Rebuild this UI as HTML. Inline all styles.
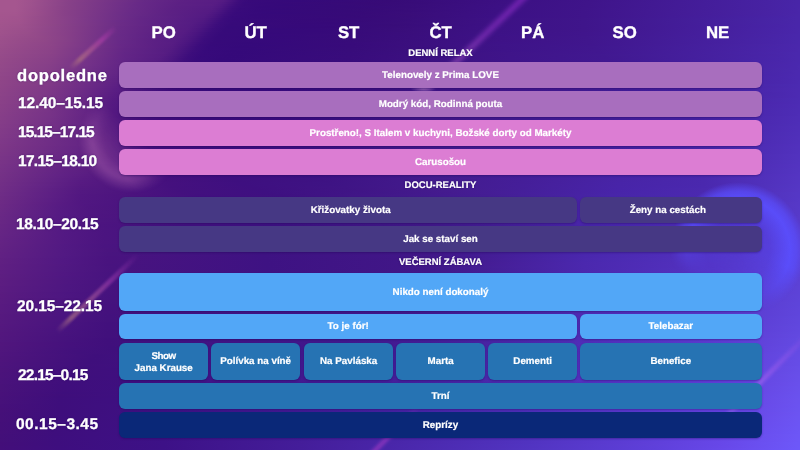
<!DOCTYPE html>
<html><head><meta charset="utf-8">
<style>
*{margin:0;padding:0;box-sizing:border-box}
html,body{width:800px;height:450px;overflow:hidden}
body{position:relative;font-family:"Liberation Sans",sans-serif;font-weight:bold;color:#fff;background:#3a0f80;text-rendering:geometricPrecision}
#bg{position:absolute;left:0;top:0;width:800px;height:450px;overflow:hidden}
#g{position:absolute;left:0;top:0;width:800px;height:450px}
#g i{display:block;height:2px}
.dec{position:absolute}
.st{position:absolute;height:4px;border-radius:2px;transform-origin:0 50%;filter:blur(1.2px)}
.b{will-change:transform;position:absolute;border-radius:6px;text-align:center;font-size:9.8px;-webkit-text-stroke:.2px #fff;white-space:nowrap;box-shadow:0 1px 2px rgba(30,0,80,.35)}
.c1{background:#a86ebe}.c2{background:#dc7dd3}.c3{background:#463884}.c4{background:#52a7f7}.c5{background:#2673b3}.c6{background:#0a2878}
.d{will-change:transform;position:absolute;top:20.3px;font-size:16.8px;-webkit-text-stroke:.35px #fff;text-align:center;width:89.3px;line-height:26px}
.s{will-change:transform;position:absolute;left:119px;width:643px;text-align:center;font-size:9.5px;-webkit-text-stroke:.2px #fff;line-height:14.2px;text-shadow:0 0 2px rgba(30,0,90,.6)}
.t{will-change:transform;position:absolute;font-size:15.5px;-webkit-text-stroke:.3px #fff;line-height:19.2px;white-space:nowrap;text-shadow:0 0 2px rgba(40,0,90,.6)}
</style></head><body>
<div id="bg"><div id="g"><i style="background:linear-gradient(90deg,#a5568f 0px,#a5568f 16px,#9e518d 32px,#884188 68px,#662986 144px,#5c2084 184px,#581d84 216px,#531a83 224px,#3c0c7c 240px,#380a7a 248px,#35097a 296px,#370b77 392px,#3c1084 508px,#3f148a 592px,#4722a3 768px,#4825a7 796px,#4825a8 799px)"></i><i style="background:linear-gradient(90deg,#a5568f 0px,#a5568f 16px,#9d518d 32px,#874188 68px,#672987 140px,#5c2084 180px,#571c84 216px,#501882 224px,#3f0e7c 236px,#380a7b 244px,#36097a 268px,#370a77 368px,#380c79 416px,#3c1083 500px,#3f148a 588px,#4722a3 768px,#4825a7 796px,#4825a8 799px)"></i><i style="background:linear-gradient(90deg,#a5568f 0px,#a5568f 16px,#9d518d 32px,#874188 68px,#682a87 136px,#5c2184 176px,#581d84 212px,#521983 220px,#3d0d7c 236px,#380a7a 244px,#35097a 284px,#370b77 380px,#390d7b 428px,#3c1084 500px,#3f148a 588px,#4722a3 768px,#4825a8 796px,#4925a8 799px)"></i><i style="background:linear-gradient(90deg,#a5568f 0px,#a5568f 16px,#9d508d 32px,#894288 64px,#682a87 136px,#5c2084 176px,#561c84 212px,#501882 220px,#3f0e7d 232px,#390b7b 240px,#36097a 260px,#360a78 352px,#380c79 408px,#3c1084 496px,#3f148a 588px,#4722a3 768px,#4825a8 796px,#4925a8 799px)"></i><i style="background:linear-gradient(90deg,#a5568f 0px,#a5568f 16px,#9a4e8c 36px,#894288 64px,#692b87 132px,#5c2184 172px,#551b83 212px,#4d1681 220px,#3d0d7c 232px,#380a7b 240px,#35097a 276px,#370b77 372px,#390d7a 416px,#3c1084 496px,#3f148a 584px,#4722a3 768px,#4825a8 796px,#4926a8 799px)"></i><i style="background:linear-gradient(90deg,#a5568f 0px,#a4568f 16px,#9a4e8c 36px,#884188 64px,#692a87 132px,#5c2084 172px,#551b83 208px,#4f1882 216px,#3f0e7d 228px,#390b7b 236px,#36097a 256px,#360a78 348px,#380c79 408px,#3c1084 496px,#3f148a 584px,#4823a4 772px,#4925a8 796px,#4926a9 799px)"></i><i style="background:linear-gradient(90deg,#a4568e 0px,#a4558f 16px,#9a4e8b 36px,#884188 64px,#6a2b87 128px,#5d2184 168px,#541a83 208px,#4c1681 216px,#3d0d7c 228px,#380a7b 236px,#35097a 272px,#370a78 364px,#390d7a 412px,#3c1084 496px,#3f148a 584px,#4823a4 772px,#4925a8 796px,#4926a9 799px)"></i><i style="background:linear-gradient(90deg,#a4558e 0px,#a3558e 16px,#994e8b 36px,#884188 64px,#692b87 128px,#5c2184 168px,#541b83 204px,#4e1781 212px,#3f0e7d 224px,#390b7b 232px,#36097a 252px,#360a78 348px,#390d79 408px,#3c1085 496px,#3f148a 584px,#4823a5 776px,#4926a8 796px,#4926a9 799px)"></i><i style="background:linear-gradient(90deg,#a4558e 0px,#a1538e 20px,#914889 48px,#7c3888 88px,#642786 140px,#591e84 184px,#531a83 204px,#4c1680 212px,#3d0d7c 224px,#380a7b 232px,#36097a 260px,#370a78 360px,#390d7a 412px,#3c1085 496px,#3f148a 584px,#4824a7 784px,#4926a9 796px,#4926a9 799px)"></i><i style="background:linear-gradient(90deg,#a3558e 0px,#a1538d 20px,#914889 48px,#7a3788 92px,#642686 140px,#571d84 188px,#511982 204px,#44117e 216px,#3b0c7c 224px,#370a7a 236px,#360979 328px,#380d79 400px,#3d1185 496px,#3f158a 584px,#4825a8 788px,#4926a9 796px,#4926a9 799px)"></i><i style="background:linear-gradient(90deg,#a3548e 0px,#a0528d 20px,#914789 48px,#6b2c88 120px,#5d2184 160px,#541b83 196px,#4f1881 204px,#3d0d7c 220px,#380a7b 228px,#36097a 252px,#370a78 356px,#390d7b 412px,#3d1185 496px,#3f158b 584px,#4825a7 784px,#4926a9 796px,#4926aa 799px)"></i><i style="background:linear-gradient(90deg,#a2548d 0px,#9f528d 20px,#914789 48px,#6b2c87 120px,#5e2285 156px,#551c83 192px,#4d1781 204px,#3b0c7c 220px,#370a7a 232px,#360979 332px,#390d7a 400px,#3d1185 496px,#3f158b 584px,#4825a7 784px,#4926a9 796px,#4926aa 799px)"></i><i style="background:linear-gradient(90deg,#a1548d 0px,#9e518c 20px,#8e4688 52px,#6b2c87 120px,#5e2285 156px,#541b83 192px,#4b1580 204px,#3d0d7c 216px,#370a7a 228px,#36097a 308px,#380c79 392px,#3d1186 500px,#3f158b 584px,#4824a7 780px,#4926aa 796px,#4926aa 799px)"></i><i style="background:linear-gradient(90deg,#a1538d 0px,#9c508c 24px,#863f88 68px,#6a2b87 120px,#5e2184 156px,#551c83 188px,#4d1781 200px,#3c0c7c 216px,#360a7a 228px,#360979 332px,#390d7a 400px,#3d1186 496px,#3f158b 584px,#4824a7 780px,#4926aa 796px,#4926aa 799px)"></i><i style="background:linear-gradient(90deg,#a0538d 0px,#9b4f8b 24px,#863f88 68px,#6a2b87 120px,#5d2184 156px,#551b83 188px,#4b1580 200px,#3d0d7c 212px,#370a7a 224px,#35097b 276px,#370b79 356px,#3a0e7c 412px,#3d1186 496px,#3f158b 584px,#4824a7 776px,#4926aa 796px,#4927aa 799px)"></i><i style="background:linear-gradient(90deg,#9f528c 0px,#994d8b 28px,#843e88 72px,#692a87 120px,#5d2184 156px,#561c83 184px,#4d1781 196px,#3c0d7c 212px,#360a7a 224px,#36097a 316px,#390d7a 396px,#3d1286 500px,#40158b 584px,#4824a7 776px,#4926aa 796px,#4927ab 799px)"></i><i style="background:linear-gradient(90deg,#9f528c 0px,#984d8a 28px,#863f88 68px,#692a87 120px,#5e2184 152px,#551b83 184px,#4b1580 196px,#3d0e7c 208px,#370a7a 220px,#35097a 256px,#370a7a 352px,#3a0e7c 412px,#3d1286 496px,#40158c 584px,#4824a6 772px,#4926aa 796px,#4927ab 799px)"></i><i style="background:linear-gradient(90deg,#9e518c 0px,#964b8a 32px,#863f88 68px,#682a87 120px,#5d2184 152px,#561c83 180px,#4d1781 192px,#3c0d7c 208px,#360a7a 220px,#36097b 280px,#380b7a 360px,#3a0e7d 416px,#3d1287 496px,#40158c 584px,#4824a7 772px,#4927ab 796px,#4927ab 799px)"></i><i style="background:linear-gradient(90deg,#9d508c 0px,#944a89 36px,#884188 64px,#6a2b87 116px,#5e2285 148px,#551c83 180px,#4b1680 192px,#3e0e7c 204px,#370a7a 216px,#35097a 248px,#370b7a 352px,#3a0e7d 412px,#3e1287 500px,#40168c 584px,#4824a6 768px,#4927ab 796px,#4927ab 799px)"></i><i style="background:linear-gradient(90deg,#9c508b 0px,#924889 40px,#884188 64px,#6a2b87 116px,#5e2184 148px,#561c83 176px,#4e1781 188px,#3c0d7c 204px,#370a7a 216px,#35097b 260px,#380b7a 352px,#3a0e7d 412px,#3e1287 500px,#40168d 588px,#4825a8 776px,#4927ab 796px,#4927ac 799px)"></i><i style="background:linear-gradient(90deg,#9b4f8b 0px,#904788 44px,#853f88 68px,#672987 120px,#5c2084 152px,#551c83 176px,#4c1680 188px,#3b0c7c 204px,#360a7a 216px,#36097b 280px,#380c7a 364px,#3b0f7f 424px,#3e1287 500px,#40168d 588px,#4824a7 772px,#4927ab 796px,#4a27ac 799px)"></i><i style="background:linear-gradient(90deg,#9b4f8b 0px,#8e4588 48px,#853e88 68px,#672987 120px,#5c2084 152px,#571d83 172px,#4e1781 184px,#3d0d7c 200px,#370a7a 212px,#35097a 248px,#380b7b 352px,#3b0f7e 416px,#3e1288 500px,#40168d 588px,#4824a7 772px,#4927ab 796px,#4a27ac 799px)"></i><i style="background:linear-gradient(90deg,#9a4e8b 0px,#8c4488 52px,#803b88 76px,#672887 120px,#5c2084 152px,#561c83 172px,#4c1680 184px,#3b0c7c 200px,#360a7a 212px,#35097b 260px,#380b7b 356px,#3b0f7f 420px,#3e1388 500px,#40168e 592px,#4925a8 776px,#4a27ac 796px,#4a27ac 799px)"></i><i style="background:linear-gradient(90deg,#994e8a 0px,#8c4388 52px,#7d3988 80px,#652786 124px,#5b1f84 156px,#551c82 172px,#4a157f 184px,#3d0d7c 196px,#370a7b 208px,#35097a 240px,#380b7b 352px,#3b0f7e 416px,#3e1388 504px,#40178e 592px,#4825a8 772px,#4a27ac 796px,#4a28ac 799px)"></i><i style="background:linear-gradient(90deg,#984d8a 0px,#8b4388 52px,#7c3888 80px,#642686 124px,#5a1f84 156px,#541b82 172px,#3c0d7c 196px,#370a7b 208px,#35097b 252px,#380c7b 356px,#3b107f 420px,#3e1388 504px,#40178f 596px,#4925a9 776px,#4a27ac 796px,#4a28ad 799px)"></i><i style="background:linear-gradient(90deg,#984c8a 0px,#8a4288 52px,#7c3888 80px,#642686 124px,#551c82 168px,#4a1580 180px,#3e0e7c 192px,#370a7b 204px,#35097a 232px,#380c7b 352px,#3b107f 420px,#3e1389 504px,#41178f 596px,#4925a9 776px,#4a27ac 796px,#4a28ad 799px)"></i><i style="background:linear-gradient(90deg,#974c8a 0px,#8a4288 52px,#7b3888 80px,#632686 124px,#571d83 164px,#4d1780 176px,#3c0d7c 192px,#370a7b 204px,#35097a 240px,#380c7c 352px,#3b1080 420px,#3f1489 508px,#411790 600px,#4926aa 780px,#4a28ad 796px,#4a28ad 799px)"></i><i style="background:linear-gradient(90deg,#964b8a 0px,#894188 52px,#793688 84px,#632586 124px,#561c82 164px,#4b1680 176px,#3e0e7c 188px,#380a7b 200px,#35097a 228px,#380c7c 352px,#3c1080 420px,#3f1489 508px,#411890 600px,#4925a9 776px,#4a28ad 796px,#4a28ad 799px)"></i><i style="background:linear-gradient(90deg,#964b89 0px,#884188 52px,#783588 84px,#632586 124px,#571d83 160px,#4d1780 172px,#3d0d7c 188px,#370a7b 200px,#35097a 232px,#390c7c 352px,#3c1081 424px,#3f148a 512px,#411890 604px,#4926aa 780px,#4a28ad 796px,#4a28ae 799px)"></i><i style="background:linear-gradient(90deg,#954a89 0px,#874088 52px,#753388 88px,#622586 124px,#561c82 160px,#4c1680 172px,#3f0e7c 184px,#380b7b 196px,#35097a 220px,#380c7c 348px,#3c1081 420px,#3f148a 512px,#411891 608px,#4926ab 784px,#4a28ad 796px,#4a28ae 799px)"></i><i style="background:linear-gradient(90deg,#944a89 0px,#873f88 52px,#743288 88px,#622486 124px,#571d83 156px,#4e1780 168px,#3e0e7c 184px,#380a7b 196px,#35097b 228px,#390c7c 352px,#3c1181 424px,#3f148a 512px,#411891 608px,#4926ab 780px,#4a28ad 796px,#4a28ae 799px)"></i><i style="background:linear-gradient(90deg,#944989 0px,#863f88 52px,#723088 92px,#602385 128px,#551c82 156px,#4c1680 168px,#3d0d7c 184px,#370a7b 200px,#360a7b 252px,#390d7d 360px,#3d1283 436px,#40158b 524px,#421993 620px,#4a27ac 788px,#4a28ae 796px,#4a28ae 799px)"></i><i style="background:linear-gradient(90deg,#934989 0px,#853e88 52px,#713088 92px,#5f2285 128px,#541b82 156px,#3d0d7c 184px,#370a7b 200px,#360a7b 252px,#390d7d 360px,#3d1284 440px,#40158b 528px,#421a94 624px,#4a27ad 788px,#4a28ae 796px,#4a29af 799px)"></i><i style="background:linear-gradient(90deg,#934989 0px,#843e88 52px,#702f88 92px,#5f2285 128px,#551b82 152px,#48147f 168px,#3c0c7b 184px,#370a7b 204px,#370a7c 280px,#3b0f7f 388px,#40158b 520px,#421994 620px,#4a27ac 784px,#4a28ae 796px,#4b29af 799px)"></i><i style="background:linear-gradient(90deg,#924889 0px,#843d88 52px,#6d2d87 96px,#5d2085 132px,#531a82 152px,#3e0d7c 180px,#380a7b 196px,#360a7b 240px,#390d7d 356px,#3d1284 436px,#40168c 532px,#421a95 632px,#4a28ad 788px,#4a28ae 796px,#4b29af 799px)"></i><i style="background:linear-gradient(90deg,#924889 0px,#833d87 52px,#6c2c87 96px,#5c2084 132px,#521981 152px,#3d0d7c 180px,#370a7b 200px,#360a7c 260px,#3a0e7e 368px,#40168d 536px,#431b97 640px,#4a28ad 788px,#4b29af 796px,#4b29af 799px)"></i><i style="background:linear-gradient(90deg,#914789 0px,#823c87 52px,#6c2c87 96px,#531a82 148px,#3f0e7c 176px,#390b7b 192px,#360a7b 232px,#3a0d7e 352px,#3d1284 436px,#40168d 540px,#431c98 648px,#4a28ae 792px,#4b29af 796px,#4b29b0 799px)"></i><i style="background:linear-gradient(90deg,#914789 0px,#823b87 52px,#6b2b87 96px,#521981 148px,#3e0d7c 176px,#380a7b 196px,#360a7b 248px,#3a0e7e 360px,#3e1487 456px,#421a95 624px,#4926ab 772px,#4b29af 796px,#4b29b0 799px)"></i><i style="background:linear-gradient(90deg,#904688 0px,#813b87 52px,#6a2a87 96px,#501881 148px,#3e0d7c 176px,#380a7b 196px,#360a7c 252px,#3a0e7f 364px,#40168d 528px,#431b97 640px,#4a27ad 780px,#4b29b0 796px,#4b29b0 799px)"></i><i style="background:linear-gradient(90deg,#904688 0px,#803a87 52px,#692986 96px,#4f1780 148px,#3e0d7c 176px,#380a7b 200px,#370a7c 268px,#3b1080 380px,#41178e 540px,#441d9a 656px,#4a28ae 788px,#4b29b0 796px,#4b29b0 799px)"></i><i style="background:linear-gradient(90deg,#8f4588 0px,#7f3a87 52px,#6b2a86 92px,#501881 144px,#3f0e7c 172px,#390a7b 196px,#370a7c 256px,#3b0f7f 368px,#41178d 528px,#431c98 644px,#4a27ad 780px,#4b29b0 796px,#4b2ab1 799px)"></i><i style="background:linear-gradient(90deg,#8f4588 0px,#7f3987 52px,#6a2986 92px,#4f1780 144px,#3f0d7c 172px,#390b7b 196px,#370a7c 256px,#3b0f7f 368px,#41178e 528px,#431c99 648px,#4a27ad 780px,#4b29b0 796px,#4b2ab1 799px)"></i><i style="background:linear-gradient(90deg,#8e4588 0px,#803a87 48px,#6e2c86 84px,#581d83 124px,#3f0d7c 172px,#380a7b 200px,#370b7c 272px,#3c1181 392px,#411890 560px,#4620a0 696px,#4b2ab1 796px,#4c2ab1 799px)"></i><i style="background:linear-gradient(90deg,#8e4488 0px,#7f3987 48px,#6d2c86 84px,#591d83 120px,#3e0d7c 172px,#390a7b 200px,#370b7d 272px,#3c1182 392px,#441d9a 648px,#4a27ac 772px,#4b2ab1 796px,#4c2ab2 799px)"></i><i style="background:linear-gradient(90deg,#8d4488 0px,#7e3987 48px,#6c2b86 84px,#581c83 120px,#400d7c 168px,#390b7b 196px,#370b7c 264px,#3c1081 380px,#421991 560px,#4620a1 700px,#4c2ab1 796px,#4c2ab2 799px)"></i><i style="background:linear-gradient(90deg,#8d4388 0px,#7e3887 48px,#6e2c86 80px,#591d83 116px,#3f0d7c 168px,#390b7b 196px,#380b7d 264px,#3c1181 380px,#421991 556px,#4620a1 696px,#4c2ab2 796px,#4c2ab2 799px)"></i><i style="background:linear-gradient(90deg,#8c4388 0px,#7d3887 48px,#6d2c86 80px,#581c82 116px,#3f0d7c 168px,#390b7b 200px,#380b7d 276px,#3d1283 396px,#441d9c 656px,#4a27ad 772px,#4c2ab2 796px,#4c2bb2 799px)"></i><i style="background:linear-gradient(90deg,#8c4388 0px,#7d3787 48px,#6c2b86 80px,#571b82 116px,#400e7c 164px,#3a0b7b 196px,#380b7d 268px,#3d1283 392px,#441e9c 660px,#4a28ae 776px,#4c2ab2 796px,#4c2bb3 799px)"></i><i style="background:linear-gradient(90deg,#8b4288 0px,#7c3787 48px,#6c2b86 80px,#581c82 112px,#400e7c 164px,#3a0b7b 196px,#380b7d 268px,#3d1283 392px,#451e9d 664px,#4b28ae 776px,#4c2ab2 796px,#4c2bb3 799px)"></i><i style="background:linear-gradient(90deg,#8b4288 0px,#7c3687 48px,#6b2a86 80px,#571b82 112px,#410e7c 160px,#3a0b7b 192px,#380b7d 260px,#3c1182 376px,#421890 528px,#4620a0 688px,#4c2bb3 796px,#4c2bb3 799px)"></i><i style="background:linear-gradient(90deg,#8a4188 0px,#7b3687 48px,#6b2a86 80px,#561a81 112px,#410e7c 160px,#3b0b7c 192px,#380b7d 260px,#3d1182 376px,#421990 528px,#4620a1 692px,#4c2bb3 796px,#4d2bb4 799px)"></i><i style="background:linear-gradient(90deg,#8a4188 0px,#7a3687 48px,#6a2985 80px,#551a81 112px,#410e7c 160px,#3a0b7c 196px,#390c7d 272px,#3e1384 396px,#451f9f 676px,#4c29b1 784px,#4c2bb3 796px,#4d2bb4 799px)"></i><i style="background:linear-gradient(90deg,#894088 0px,#7a3587 48px,#6a2985 80px,#551981 112px,#420e7c 156px,#3b0b7c 192px,#390c7d 264px,#3d1283 384px,#421a93 560px,#4722a4 708px,#4d2bb4 796px,#4d2cb4 799px)"></i><i style="background:linear-gradient(90deg,#894088 0px,#793587 48px,#6a2985 80px,#521880 116px,#420e7c 156px,#3b0b7c 192px,#390c7d 264px,#3e1384 388px,#431c99 616px,#4824a7 724px,#4d2bb4 796px,#4d2cb5 799px)"></i><i style="background:linear-gradient(90deg,#884088 0px,#793487 48px,#692885 80px,#521780 116px,#420e7c 156px,#3b0b7c 196px,#390c7e 276px,#3e1385 396px,#4621a2 692px,#4d2cb4 796px,#4d2cb5 799px)"></i><i style="background:linear-gradient(90deg,#883f88 0px,#783487 48px,#662685 84px,#50167f 120px,#420e7c 156px,#3b0b7c 196px,#390c7e 276px,#3e1485 396px,#4621a3 696px,#4d2cb5 796px,#4d2cb5 799px)"></i><i style="background:linear-gradient(90deg,#873f88 0px,#763287 52px,#662685 84px,#50167f 120px,#430e7c 152px,#3c0b7c 192px,#390c7e 268px,#3e1385 392px,#4722a4 700px,#4d2cb5 796px,#4e2cb6 799px)"></i><i style="background:linear-gradient(90deg,#873e88 0px,#763287 52px,#642484 88px,#4e157e 124px,#430e7c 152px,#3c0c7c 192px,#390c7e 268px,#3e1485 392px,#4722a4 700px,#4d2cb5 796px,#4e2db6 799px)"></i><i style="background:linear-gradient(90deg,#863e88 0px,#753287 52px,#632484 88px,#4b137e 128px,#420e7c 156px,#3b0c7c 200px,#3a0d7e 284px,#3f1586 404px,#4722a4 700px,#4e2db6 796px,#4e2db7 799px)"></i><i style="background:linear-gradient(90deg,#863e88 0px,#753187 52px,#632484 88px,#4a127d 132px,#410d7c 160px,#3b0c7c 212px,#3a0e7f 304px,#401789 432px,#4722a4 696px,#4e2db6 796px,#4e2db7 799px)"></i><i style="background:linear-gradient(90deg,#853d88 0px,#743187 52px,#612283 92px,#48117d 136px,#3f0d7c 168px,#3a0c7d 228px,#3c0f81 328px,#42188d 468px,#4722a4 696px,#4e2db7 796px,#4e2db7 799px)"></i><i style="background:linear-gradient(90deg,#853d88 0px,#722f87 56px,#5f2183 96px,#48117d 136px,#400d7c 164px,#3b0c7d 224px,#3b0f81 324px,#42188d 468px,#4722a4 696px,#4e2db7 796px,#4e2eb8 799px)"></i><i style="background:linear-gradient(90deg,#843c88 0px,#722f86 56px,#5f2183 96px,#48117d 136px,#410d7c 160px,#3b0c7d 216px,#3b0f80 312px,#42198d 468px,#4723a5 700px,#4e2eb7 796px,#4f2eb8 799px)"></i><i style="background:linear-gradient(90deg,#843c88 0px,#712f86 56px,#5f2183 96px,#48117d 136px,#410d7c 160px,#3b0c7d 216px,#3b0e80 308px,#42198d 464px,#4723a6 700px,#4f2eb8 796px,#4f2eb8 799px)"></i><i style="background:linear-gradient(90deg,#833b88 0px,#6f2d86 60px,#5d1f82 100px,#48117d 136px,#410d7c 160px,#3b0c7d 220px,#3b0f81 316px,#42198d 464px,#4723a6 700px,#4f2eb8 796px,#4f2eb9 799px)"></i><i style="background:linear-gradient(90deg,#823b88 0px,#6f2d86 60px,#5d2082 100px,#49117d 136px,#410d7c 164px,#3b0c7d 228px,#3c1081 328px,#42198d 460px,#4723a6 700px,#4f2eb9 796px,#4f2fb9 799px)"></i><i style="background:linear-gradient(90deg,#823b88 0px,#6d2b86 64px,#5d2082 100px,#49127d 136px,#410d7c 164px,#3b0c7e 232px,#3c1082 332px,#42198d 460px,#4723a6 700px,#4f2fb9 796px,#502fba 799px)"></i><i style="background:linear-gradient(90deg,#813a88 0px,#6b2a86 68px,#5b1f81 104px,#49127d 136px,#410d7c 164px,#3b0c7e 232px,#3d1082 332px,#42198d 460px,#4824a7 700px,#4f2fb9 796px,#502fba 799px)"></i><i style="background:linear-gradient(90deg,#813a88 0px,#682885 76px,#5c1f81 104px,#49127d 136px,#410d7c 164px,#3c0d7e 232px,#3c1082 328px,#42198d 456px,#4824a7 700px,#502fba 796px,#5030ba 799px)"></i><i style="background:linear-gradient(90deg,#803988 0px,#682785 76px,#5c1f81 104px,#49127d 136px,#410d7c 164px,#3c0d7e 232px,#3d1082 328px,#42198d 456px,#4621a3 660px,#4a27ac 728px,#502fba 796px,#5030bb 799px)"></i><i style="background:linear-gradient(90deg,#7f3988 0px,#672785 76px,#5c1f82 104px,#49127d 136px,#410d7c 164px,#3c0d7e 232px,#3d1182 328px,#42198e 456px,#4621a2 652px,#4926ab 720px,#5030bb 796px,#5030bb 799px)"></i><i style="background:linear-gradient(90deg,#7f3888 0px,#672785 76px,#5c2082 104px,#4a127d 136px,#420d7c 164px,#3c0d7e 232px,#3d1182 328px,#42198d 452px,#4621a2 648px,#4926aa 716px,#5030bb 796px,#5130bc 799px)"></i><i style="background:linear-gradient(90deg,#7e3887 0px,#672785 76px,#5c2082 104px,#4a127d 136px,#420e7c 164px,#3c0d7e 232px,#3d1182 328px,#421a8e 452px,#4621a3 648px,#4926ab 716px,#5130bc 796px,#5131bc 799px)"></i><i style="background:linear-gradient(90deg,#7e3787 0px,#662685 76px,#5c2082 104px,#4a127d 136px,#420e7c 164px,#3d0d7e 228px,#3d1182 324px,#431a8e 452px,#4621a3 644px,#4926aa 712px,#5131bc 796px,#5131bd 799px)"></i><i style="background:linear-gradient(90deg,#7d3787 0px,#672785 72px,#5c2082 104px,#4a137d 136px,#420e7c 164px,#3d0d7e 228px,#3d1182 324px,#431a8e 452px,#4621a3 640px,#4926aa 712px,#5131bc 796px,#5131bd 799px)"></i><i style="background:linear-gradient(90deg,#7c3787 0px,#662785 72px,#5c1f82 104px,#49127d 140px,#410d7d 172px,#3c0d7f 248px,#3e1384 348px,#431a8e 452px,#4622a3 640px,#4926ab 712px,#5131bd 796px,#5132bd 799px)"></i><i style="background:linear-gradient(90deg,#7c3687 0px,#662685 72px,#5c1f81 104px,#49127d 140px,#410e7d 172px,#3c0d7f 248px,#3e1284 344px,#431a8e 452px,#4622a3 636px,#4926aa 708px,#5131bd 796px,#5232be 799px)"></i><i style="background:linear-gradient(90deg,#7b3687 0px,#652685 72px,#5b1f81 104px,#49127d 140px,#420e7d 172px,#3d0e7f 244px,#3e1284 340px,#431a8e 448px,#4622a4 636px,#4926ab 708px,#5232be 796px,#5232be 799px)"></i><i style="background:linear-gradient(90deg,#7a3587 0px,#652685 68px,#5b1e81 104px,#49127d 140px,#420e7d 172px,#3d0e7f 244px,#3e1284 340px,#431a8e 448px,#4622a4 632px,#4926ab 708px,#5232be 796px,#5232bf 799px)"></i><i style="background:linear-gradient(90deg,#7a3587 0px,#652585 68px,#591d81 108px,#48117d 144px,#410e7d 180px,#3c0e7f 260px,#3f1486 360px,#431a8e 452px,#4722a4 632px,#4926ab 708px,#5232be 796px,#5233bf 799px)"></i><i style="background:linear-gradient(90deg,#793487 0px,#642585 68px,#581c81 108px,#48117d 144px,#410e7d 180px,#3d0e80 260px,#3f1486 360px,#431b8f 452px,#4722a5 632px,#4926ab 704px,#5233bf 796px,#5233bf 799px)"></i><i style="background:linear-gradient(90deg,#793487 0px,#632485 68px,#581c81 108px,#48117d 144px,#410e7d 184px,#3d0e80 268px,#401587 372px,#431b8f 456px,#4722a5 628px,#4926ab 704px,#5233bf 796px,#5333c0 799px)"></i><i style="background:linear-gradient(90deg,#783387 0px,#642485 64px,#551a80 112px,#47117d 148px,#400e7d 192px,#3d0f81 280px,#411789 392px,#441d96 516px,#4722a5 624px,#4926ab 704px,#5333c0 796px,#5333c0 799px)"></i><i style="background:linear-gradient(90deg,#773387 0px,#632485 64px,#551a80 112px,#48117d 148px,#400e7e 192px,#3d0f81 280px,#411789 392px,#441d96 516px,#4722a5 624px,#4927ac 704px,#5333c0 796px,#5334c1 799px)"></i><i style="background:linear-gradient(90deg,#773287 0px,#622385 64px,#551a80 112px,#47107d 152px,#400e7e 204px,#3d1081 296px,#42198b 408px,#441d96 512px,#4723a5 624px,#4927ac 704px,#5334c0 796px,#5334c1 799px)"></i><i style="background:linear-gradient(90deg,#763287 0px,#612284 64px,#53187f 116px,#47107d 152px,#400e7e 204px,#3d1082 296px,#42198b 408px,#441d96 512px,#4723a6 620px,#4927ac 704px,#5334c1 796px,#5334c1 799px)"></i><i style="background:linear-gradient(90deg,#753286 0px,#602284 64px,#51177f 120px,#46107d 156px,#3f0e7e 216px,#3d1182 308px,#431b8e 444px,#451f9a 536px,#4723a6 624px,#4927ac 704px,#5334c1 796px,#5435c2 799px)"></i><i style="background:linear-gradient(90deg,#753186 0px,#612285 60px,#591c82 88px,#51177f 120px,#45107d 160px,#3f0e7f 224px,#3e1183 316px,#431b8e 440px,#451e99 528px,#4723a7 624px,#4a27ad 704px,#5434c2 796px,#5435c2 799px)"></i><i style="background:linear-gradient(90deg,#743186 0px,#602284 60px,#591c82 84px,#50177f 120px,#46107d 160px,#3f0e7f 224px,#3d1183 312px,#431b8e 440px,#451e99 528px,#4723a7 620px,#4a27ad 704px,#5435c2 796px,#5435c3 799px)"></i><i style="background:linear-gradient(90deg,#743086 0px,#5f2184 60px,#581b82 84px,#50167f 120px,#45107d 164px,#3e0e7f 232px,#3e1283 320px,#431b8e 440px,#451e99 524px,#4823a7 620px,#4a28ad 704px,#5435c2 796px,#5435c3 799px)"></i><i style="background:linear-gradient(90deg,#733086 0px,#602285 56px,#571b82 80px,#50167f 120px,#45107d 164px,#3e0f7f 236px,#3e1283 324px,#431b8e 440px,#451e99 524px,#4824a7 620px,#4a28ae 704px,#5435c3 796px,#5436c3 799px)"></i><i style="background:linear-gradient(90deg,#722f86 0px,#5f2184 56px,#571a82 80px,#4f167f 120px,#45107e 168px,#3e0f80 244px,#3e1384 332px,#431b8e 440px,#451e99 524px,#4824a8 620px,#4a28ae 704px,#5435c3 796px,#5436c4 799px)"></i><i style="background:linear-gradient(90deg,#722f86 0px,#602285 52px,#561a81 80px,#4f167f 120px,#45107e 168px,#3e0f80 244px,#3e1384 332px,#431b8e 440px,#451e99 520px,#4824a8 620px,#4a28ae 704px,#5436c3 796px,#5536c4 799px)"></i><i style="background:linear-gradient(90deg,#712e86 0px,#5f2185 52px,#551981 80px,#4f167f 120px,#44107e 172px,#3e0f80 252px,#3f1485 344px,#431b8e 440px,#451e99 520px,#4824a8 616px,#4a28af 704px,#5436c4 796px,#5536c4 799px)"></i><i style="background:linear-gradient(90deg,#712e86 0px,#5e2084 52px,#541981 80px,#4e157f 124px,#44107e 176px,#3e0f80 256px,#3f1485 348px,#441b8e 444px,#451f9a 528px,#4824a9 620px,#4b29af 704px,#5536c4 796px,#5537c5 799px)"></i><i style="background:linear-gradient(90deg,#702e86 0px,#5d2084 52px,#531881 80px,#4d157f 124px,#43107e 180px,#3e1081 264px,#401586 360px,#441b8e 444px,#451f9a 524px,#4824a9 616px,#4b29af 704px,#5536c4 796px,#5537c5 799px)"></i><i style="background:linear-gradient(90deg,#6f2d86 0px,#5d1f84 52px,#531881 80px,#4c147e 128px,#43107e 184px,#3e1081 268px,#401687 368px,#441b8f 452px,#46209e 544px,#4825a9 620px,#4b29b0 704px,#5537c5 796px,#5537c5 799px)"></i><i style="background:linear-gradient(90deg,#6f2d86 0px,#5c1f84 52px,#521781 80px,#4b137e 132px,#420f7f 196px,#3e1081 280px,#42188a 396px,#441d94 488px,#4825a9 612px,#4b29b0 704px,#5537c5 796px,#5537c6 799px)"></i><i style="background:linear-gradient(90deg,#6e2c85 0px,#5c1f84 52px,#521781 80px,#4a137e 136px,#410f7f 204px,#3e1182 288px,#42198b 408px,#441d94 488px,#4825a9 612px,#4b2ab1 704px,#5537c5 796px,#5537c6 799px)"></i><i style="background:linear-gradient(90deg,#6e2c85 0px,#5b1e84 52px,#521781 80px,#49127e 144px,#400f7f 220px,#3e1183 304px,#431b8d 440px,#451f99 516px,#4925a9 612px,#4b2ab1 704px,#5537c6 796px,#5638c6 799px)"></i><i style="background:linear-gradient(90deg,#6d2b85 0px,#5b1e84 52px,#511781 80px,#45117e 168px,#3e1080 252px,#3f1485 344px,#441b90 460px,#4925aa 612px,#4c2ab2 704px,#5537c6 796px,#5638c7 799px)"></i><i style="background:linear-gradient(90deg,#6d2b85 0px,#591c83 56px,#511781 80px,#45117e 168px,#3e1081 252px,#3f1485 344px,#441c91 468px,#4925aa 612px,#4c2ab2 704px,#5638c6 796px,#5638c7 799px)"></i><i style="background:linear-gradient(90deg,#6c2a85 0px,#581c83 56px,#501681 84px,#45117e 168px,#3e1081 252px,#3f1485 344px,#441c90 464px,#4925aa 608px,#4c2bb3 708px,#5638c7 796px,#5638c7 799px)"></i><i style="background:linear-gradient(90deg,#6c2a85 0px,#561b83 60px,#4f1680 88px,#45117e 172px,#3e1081 256px,#3f1486 352px,#441c90 464px,#4925aa 608px,#4c2bb3 708px,#5638c7 796px,#5639c8 799px)"></i><i style="background:linear-gradient(90deg,#6b2a85 0px,#561b83 60px,#4f1680 88px,#45117e 172px,#3e1081 256px,#3f1486 352px,#441b8f 460px,#4925aa 608px,#4d2bb4 708px,#5638c7 796px,#5639c8 799px)"></i><i style="background:linear-gradient(90deg,#6b2985 0px,#561a83 60px,#4f1680 88px,#45117f 172px,#3e1081 260px,#401586 360px,#441b8f 460px,#4926ab 608px,#4d2cb4 708px,#5639c8 796px,#5639c8 799px)"></i><i style="background:linear-gradient(90deg,#6a2985 0px,#561a83 60px,#4f1680 88px,#45117f 172px,#3e1081 260px,#401586 360px,#431b8e 456px,#4926aa 604px,#4d2cb5 708px,#5639c8 796px,#5739c9 799px)"></i><i style="background:linear-gradient(90deg,#6a2885 0px,#551a83 60px,#4e1580 92px,#45117f 176px,#3e1081 264px,#401586 368px,#431b8e 456px,#4926ab 604px,#4d2cb5 708px,#5639c8 796px,#573ac9 799px)"></i><i style="background:linear-gradient(90deg,#692885 0px,#541983 64px,#4e1580 96px,#44117f 180px,#3e1181 264px,#401687 372px,#431b8e 456px,#4926ab 604px,#4d2cb6 708px,#5739c9 796px,#573ac9 799px)"></i><i style="background:linear-gradient(90deg,#692885 0px,#541983 64px,#4d1580 96px,#44117f 180px,#3e1181 264px,#401686 372px,#431a8e 452px,#4926ab 604px,#4e2db7 712px,#5739c9 796px,#573aca 799px)"></i><i style="background:linear-gradient(90deg,#682784 0px,#541983 64px,#4d1580 100px,#43117f 188px,#3e1182 272px,#421889 416px,#441c92 476px,#4926aa 596px,#4e2db7 712px,#573ac9 796px,#573aca 799px)"></i><i style="background:linear-gradient(90deg,#682784 0px,#531983 64px,#4d1480 100px,#43117f 188px,#3e1182 272px,#42198a 428px,#451d95 492px,#4926ab 596px,#4e2db8 712px,#573aca 796px,#573aca 799px)"></i><i style="background:linear-gradient(90deg,#672684 0px,#531983 64px,#4c1480 100px,#43117f 188px,#3e1182 272px,#42198a 428px,#451d95 492px,#4926ab 596px,#4f2eb8 712px,#573aca 796px,#573bcb 799px)"></i><i style="background:linear-gradient(90deg,#672684 0px,#531983 64px,#4c1480 100px,#43117f 188px,#3e1182 272px,#42198a 428px,#451d95 492px,#4926ab 592px,#4f2eb9 712px,#573acb 796px,#583bcb 799px)"></i><i style="background:linear-gradient(90deg,#662684 0px,#531983 64px,#4c1480 104px,#421180 204px,#3e1182 280px,#42188a 428px,#451d95 492px,#4926ab 592px,#4f2eb9 712px,#573bcb 796px,#583bcc 799px)"></i><i style="background:linear-gradient(90deg,#662584 0px,#531983 64px,#4b1480 104px,#411180 208px,#3e1183 284px,#421889 428px,#451d95 492px,#4926ab 592px,#4f2eb9 712px,#583bcb 796px,#583bcc 799px)"></i><i style="background:linear-gradient(90deg,#662584 0px,#531983 64px,#4b1480 104px,#411180 208px,#3e1183 284px,#421889 428px,#441d94 488px,#4926ab 592px,#4f2fba 712px,#583bcc 796px,#583ccc 799px)"></i><i style="background:linear-gradient(90deg,#652584 0px,#531983 64px,#4b1480 104px,#411180 208px,#3e1183 280px,#421889 428px,#441d94 488px,#4926ab 588px,#502fba 712px,#583bcc 796px,#583ccd 799px)"></i><i style="background:linear-gradient(90deg,#652484 0px,#531983 64px,#4b1480 104px,#411180 212px,#3e1283 284px,#421889 428px,#441d94 488px,#4926ab 588px,#502fbb 712px,#583ccc 796px,#583ccd 799px)"></i><i style="background:linear-gradient(90deg,#642484 0px,#531983 64px,#4b1480 104px,#411180 212px,#3e1283 284px,#421889 428px,#441d94 488px,#4a26ab 588px,#502fbb 712px,#583ccd 796px,#583ccd 799px)"></i><i style="background:linear-gradient(90deg,#642384 0px,#531983 64px,#4b1480 104px,#411180 216px,#3e1283 288px,#421889 428px,#441d94 488px,#4a27ac 588px,#5030bc 712px,#583ccd 796px,#593dce 799px)"></i><i style="background:linear-gradient(90deg,#642383 0px,#531983 64px,#4b1480 104px,#411180 216px,#3e1283 288px,#411888 428px,#441d94 488px,#4a27ac 588px,#5030bc 712px,#583ccd 796px,#593dce 799px)"></i><i style="background:linear-gradient(90deg,#632383 0px,#521983 64px,#4a1480 104px,#401281 220px,#3e1283 292px,#411788 428px,#441d95 488px,#4a27ac 588px,#5130bc 712px,#593dce 796px,#593dce 799px)"></i><i style="background:linear-gradient(90deg,#632283 0px,#521983 64px,#4a1480 104px,#401281 220px,#3e1283 288px,#411788 428px,#441d95 488px,#4a27ac 584px,#5130bd 712px,#593dce 796px,#593dcf 799px)"></i><i style="background:linear-gradient(90deg,#622283 0px,#521983 64px,#4a147f 108px,#3e1282 256px,#411687 408px,#42198b 448px,#4a27ad 588px,#5130bd 712px,#593dce 796px,#593dcf 799px)"></i><i style="background:linear-gradient(90deg,#622283 0px,#521983 64px,#4a147f 108px,#3e1282 260px,#411788 428px,#441d95 488px,#4a27ac 584px,#5131be 712px,#593dcf 796px,#593ecf 799px)"></i><i style="background:linear-gradient(90deg,#622183 0px,#521983 64px,#49147f 108px,#3e1282 264px,#411788 428px,#441d95 488px,#4a27ad 584px,#5231be 712px,#593dcf 796px,#5a3ed0 799px)"></i><i style="background:linear-gradient(90deg,#612183 0px,#521983 64px,#49147f 108px,#3e1282 264px,#411788 428px,#441d95 488px,#4a27ad 584px,#5231bf 712px,#593ed0 796px,#5a3ed0 799px)"></i><i style="background:linear-gradient(90deg,#612183 0px,#511983 64px,#49137f 108px,#3e1282 264px,#411788 428px,#441d95 488px,#4a27ad 584px,#5231bf 712px,#5a3ed0 796px,#5a3ed1 799px)"></i><i style="background:linear-gradient(90deg,#602082 0px,#511883 64px,#49137f 108px,#3e1282 264px,#401686 396px,#42188a 440px,#4b28ae 588px,#5232bf 712px,#5a3ed0 796px,#5a3fd1 799px)"></i><i style="background:linear-gradient(90deg,#602082 0px,#511883 64px,#49137f 108px,#3e1283 268px,#411788 428px,#441d95 488px,#4a28ae 584px,#5232c0 712px,#5a3ed1 796px,#5a3fd1 799px)"></i><i style="background:linear-gradient(90deg,#602082 0px,#511883 64px,#49137f 108px,#3e1283 268px,#411788 428px,#451d95 488px,#4b28ae 584px,#5332c0 712px,#5a3fd1 796px,#5a3fd2 799px)"></i><i style="background:linear-gradient(90deg,#5f1f82 0px,#511882 64px,#48137f 108px,#3e1283 268px,#411788 428px,#451d96 488px,#4b28ae 584px,#5332c1 712px,#5a3fd1 796px,#5b3fd2 799px)"></i><i style="background:linear-gradient(90deg,#5f1f82 0px,#501882 64px,#48137f 112px,#3e1283 268px,#411788 428px,#451e96 488px,#4b28ae 584px,#5332c1 712px,#5a3fd2 796px,#5b40d2 799px)"></i><i style="background:linear-gradient(90deg,#5f1f82 0px,#501882 64px,#48137f 112px,#3e1283 268px,#411788 428px,#441d95 484px,#4b28ae 584px,#5333c2 712px,#5b3fd2 796px,#5b40d3 799px)"></i><i style="background:linear-gradient(90deg,#5e1e82 0px,#501882 64px,#48137f 112px,#3e1283 268px,#411788 428px,#441d95 484px,#4b28af 584px,#5433c2 712px,#5b40d3 796px,#5b40d3 799px)"></i><i style="background:linear-gradient(90deg,#5e1e82 0px,#501782 64px,#47137f 112px,#3e1283 272px,#411789 428px,#441d95 484px,#4b28af 584px,#5433c2 712px,#5b40d3 796px,#5b40d4 799px)"></i><i style="background:linear-gradient(90deg,#5d1e81 0px,#501782 64px,#47137f 112px,#3e1384 272px,#411789 428px,#441d95 484px,#4b28af 584px,#5434c4 716px,#5b40d3 796px,#5b41d4 799px)"></i><i style="background:linear-gradient(90deg,#5d1e81 0px,#4f1782 64px,#47137f 112px,#3e1384 272px,#411789 428px,#441d96 484px,#4b29af 584px,#5534c4 716px,#5b40d4 796px,#5c41d4 799px)"></i><i style="background:linear-gradient(90deg,#5d1d81 0px,#4e1781 68px,#47137f 116px,#3e1384 272px,#411789 424px,#441c93 472px,#4b29b0 584px,#5534c4 716px,#5c41d4 796px,#5c41d5 799px)"></i><i style="background:linear-gradient(90deg,#5c1d81 0px,#4e1681 68px,#46127f 116px,#3e1384 276px,#411789 424px,#441c93 472px,#4c29b0 584px,#5534c5 716px,#5c41d5 796px,#5c41d5 799px)"></i><i style="background:linear-gradient(90deg,#5c1d81 0px,#4e1681 68px,#46127f 116px,#3e1384 276px,#411789 424px,#441c93 472px,#4c29b0 584px,#5535c5 716px,#5c41d5 796px,#5c42d6 799px)"></i><i style="background:linear-gradient(90deg,#5c1d81 0px,#4d1681 68px,#46127e 116px,#3e1384 276px,#41178a 424px,#441c93 472px,#4c29b0 584px,#5535c6 716px,#5c41d5 796px,#5c42d6 799px)"></i><i style="background:linear-gradient(90deg,#5b1c81 0px,#4d1681 68px,#46127e 116px,#3e1385 280px,#41178a 424px,#441d95 476px,#4c29b1 584px,#5635c6 716px,#5c42d6 796px,#5d42d6 799px)"></i><i style="background:linear-gradient(90deg,#5b1c81 0px,#4d1681 68px,#46127e 116px,#3e1385 280px,#41188a 424px,#441d95 476px,#4c29b1 584px,#5635c6 716px,#5c42d6 796px,#5d42d7 799px)"></i><i style="background:linear-gradient(90deg,#5b1c81 0px,#4d1681 68px,#45127e 116px,#3e1385 280px,#41188b 424px,#441d95 476px,#4c2ab1 584px,#5635c7 716px,#5d42d7 796px,#5d43d7 799px)"></i><i style="background:linear-gradient(90deg,#5a1c80 0px,#4c1581 68px,#45127e 116px,#3e1385 284px,#41188a 420px,#441c93 468px,#4c2ab1 584px,#5636c7 716px,#5d42d7 796px,#5d43d8 799px)"></i><i style="background:linear-gradient(90deg,#5a1b80 0px,#4d1681 64px,#45127e 112px,#3e1385 284px,#41188b 420px,#441d95 472px,#4d2ab2 588px,#5736c8 716px,#5d43d7 796px,#5d43d8 799px)"></i><i style="background:linear-gradient(90deg,#5a1b80 0px,#4d1681 64px,#45127e 112px,#3e1485 284px,#41188b 420px,#441d95 472px,#4d2ab3 588px,#5736c8 716px,#5d43d8 796px,#5e43d8 799px)"></i><i style="background:linear-gradient(90deg,#591b80 0px,#4d1580 64px,#45127e 112px,#3e1486 288px,#41188c 420px,#441d95 472px,#4d2ab3 588px,#5736c9 716px,#5d43d8 796px,#5e44d9 799px)"></i><i style="background:linear-gradient(90deg,#591b80 0px,#4c1580 64px,#45127e 112px,#3e1486 288px,#41188c 420px,#441d96 472px,#4d2bb3 588px,#5736c9 716px,#5e43d9 796px,#5e44d9 799px)"></i><i style="background:linear-gradient(90deg,#591b80 0px,#4c1580 64px,#44127e 112px,#3e1486 292px,#41188c 420px,#441d96 472px,#4d2bb3 588px,#5837c9 716px,#5e44d9 796px,#5e44da 799px)"></i><i style="background:linear-gradient(90deg,#581a80 0px,#4c1580 64px,#44117e 112px,#3e1486 292px,#41188d 420px,#451e97 476px,#4e2bb5 592px,#5837ca 716px,#5e44d9 796px,#5e44da 799px)"></i><i style="background:linear-gradient(90deg,#581a80 0px,#4c1580 64px,#44117e 112px,#3e1487 296px,#42198d 420px,#451e98 476px,#4e2bb5 592px,#5837ca 716px,#5e44da 796px,#5f45da 799px)"></i><i style="background:linear-gradient(90deg,#581a80 0px,#4b1580 64px,#44117e 112px,#3e1487 296px,#42198d 420px,#451e98 476px,#4e2bb5 592px,#5837cb 716px,#5f44da 796px,#5f45db 799px)"></i><i style="background:linear-gradient(90deg,#571a80 0px,#4b1580 64px,#44117d 108px,#3f1487 296px,#42198e 420px,#451f99 476px,#4e2cb6 596px,#5937cb 716px,#5f45db 796px,#5f45db 799px)"></i><i style="background:linear-gradient(90deg,#571a7f 0px,#4b1480 64px,#44117d 108px,#3f1587 300px,#42198e 420px,#451f99 476px,#4f2cb6 596px,#5938cb 716px,#5f45db 796px,#5f45dc 799px)"></i><i style="background:linear-gradient(90deg,#56197f 0px,#4b1480 64px,#43117d 108px,#3f1588 300px,#42198e 416px,#451e98 472px,#4f2cb7 596px,#5938cc 716px,#5f45db 796px,#5f46dc 799px)"></i><i style="background:linear-gradient(90deg,#56197f 0px,#4a147f 64px,#43117d 108px,#3f1588 304px,#42198f 416px,#451f9a 476px,#4f2db8 600px,#5938cc 716px,#5f46dc 796px,#6046dc 799px)"></i><i style="background:linear-gradient(90deg,#56197f 0px,#4a147f 64px,#43117d 108px,#3f1588 308px,#421a8f 420px,#46209b 480px,#4f2db8 600px,#5a38cd 716px,#6046dc 796px,#6046dd 799px)"></i><i style="background:linear-gradient(90deg,#55197f 0px,#4a147f 64px,#43117d 108px,#3f1589 308px,#421a90 420px,#46209c 484px,#502db8 600px,#5a38cd 716px,#6046dd 796px,#6047dd 799px)"></i><i style="background:linear-gradient(90deg,#55197f 0px,#49147f 64px,#42107d 108px,#3f1589 312px,#421a90 420px,#46219d 484px,#502eba 604px,#5a39ce 716px,#6046dd 796px,#6047de 799px)"></i><i style="background:linear-gradient(90deg,#55187f 0px,#49147f 64px,#42107d 108px,#3f1689 316px,#421a91 420px,#46219d 484px,#502eba 604px,#5a39ce 716px,#6047dd 796px,#6147de 799px)"></i><i style="background:linear-gradient(90deg,#54187f 0px,#49137f 64px,#42107d 108px,#3f168a 320px,#421a91 420px,#46219e 484px,#512ebb 608px,#5b39ce 716px,#6147de 796px,#6147df 799px)"></i><i style="background:linear-gradient(90deg,#54187e 0px,#48137f 64px,#42107d 108px,#40168a 324px,#431b92 420px,#47229f 488px,#512ebb 608px,#5b39cf 716px,#6147de 796px,#6148df 799px)"></i><i style="background:linear-gradient(90deg,#53187e 0px,#48137f 64px,#41107c 108px,#40168b 328px,#431b93 424px,#4723a1 496px,#512fbc 612px,#5b39cf 716px,#6147df 796px,#6148df 799px)"></i><i style="background:linear-gradient(90deg,#53177e 0px,#48137e 64px,#41107c 108px,#40168b 328px,#431b93 424px,#4823a2 496px,#522fbd 612px,#5c3ad0 716px,#6148df 796px,#6248e0 799px)"></i><i style="background:linear-gradient(90deg,#53177e 0px,#47137e 64px,#41107c 108px,#40178c 332px,#431c94 424px,#4823a2 496px,#5230be 616px,#5c3ad0 716px,#6248e0 796px,#6249e0 799px)"></i><i style="background:linear-gradient(90deg,#52177e 0px,#47127e 64px,#41107c 108px,#40178c 336px,#431c94 424px,#4824a4 500px,#5330bf 620px,#5c3ad0 716px,#6248e0 796px,#6249e1 799px)"></i><i style="background:linear-gradient(90deg,#52177e 0px,#47127e 64px,#400f7c 108px,#40178d 340px,#441c95 428px,#4925a6 508px,#5331c0 624px,#5d3bd2 720px,#6249e1 796px,#6349e1 799px)"></i><i style="background:linear-gradient(90deg,#51177e 0px,#45127d 68px,#400f7c 108px,#40188d 344px,#441d96 428px,#4925a6 508px,#5431c1 628px,#5d3bd2 720px,#6349e1 796px,#6349e2 799px)"></i><i style="background:linear-gradient(90deg,#51167d 0px,#45117d 68px,#400f7c 108px,#41188e 348px,#441d97 432px,#4a27aa 520px,#5532c3 636px,#5e3cd3 724px,#6349e1 796px,#634ae2 799px)"></i><i style="background:linear-gradient(90deg,#51167d 0px,#45117d 68px,#400f7c 108px,#41188f 352px,#441e98 436px,#4c29ae 536px,#5734c7 656px,#5f3ed6 736px,#6349e2 796px,#634ae3 799px)"></i><i style="background:linear-gradient(90deg,#50167d 0px,#44117d 72px,#3f0f7c 112px,#411990 360px,#451e99 440px,#5431c1 624px,#5d3bd3 716px,#644ae2 796px,#644ae3 799px)"></i><i style="background:linear-gradient(90deg,#50167d 0px,#43117d 72px,#3f0f7c 112px,#411990 360px,#451f9a 440px,#5431c1 620px,#5e3bd3 716px,#644ae3 796px,#644be3 799px)"></i><i style="background:linear-gradient(90deg,#50167d 0px,#42107c 76px,#3f0f7d 116px,#421a91 368px,#45209b 448px,#5532c3 628px,#5e3bd3 716px,#644ae3 796px,#644be4 799px)"></i><i style="background:linear-gradient(90deg,#4f157d 0px,#41107c 80px,#3f0f7d 124px,#421a92 372px,#46209d 452px,#5532c3 628px,#5e3bd4 716px,#644be4 796px,#654be4 799px)"></i><i style="background:linear-gradient(90deg,#4f157d 0px,#3f0f7c 96px,#411991 356px,#45209c 444px,#5432c2 620px,#5f3cd4 716px,#654be4 796px,#654be5 799px)"></i><i style="background:linear-gradient(90deg,#4e157c 0px,#3f0f7c 96px,#421a91 360px,#45209c 444px,#5432c1 616px,#5e3bd4 712px,#654be5 796px,#654ce5 799px)"></i><i style="background:linear-gradient(90deg,#4e157c 0px,#3f0f7c 92px,#401182 168px,#421a93 368px,#46219e 452px,#5533c3 624px,#5f3cd5 716px,#654be5 796px,#664ce6 799px)"></i><i style="background:linear-gradient(90deg,#4e147c 0px,#3f0f7c 92px,#401283 180px,#421b93 368px,#46229f 456px,#5533c4 624px,#5f3cd6 716px,#664ce6 796px,#664ce6 799px)"></i><i style="background:linear-gradient(90deg,#4d147c 0px,#3f0f7c 88px,#3f1080 148px,#431b95 380px,#4723a1 464px,#5634c6 632px,#603cd6 716px,#664ce6 796px,#664de7 799px)"></i><i style="background:linear-gradient(90deg,#4d147c 0px,#400f7c 84px,#3f107f 140px,#431c96 384px,#4824a4 472px,#5734c7 636px,#603dd6 716px,#664ce6 796px,#664de7 799px)"></i><i style="background:linear-gradient(90deg,#4c147c 0px,#3f0f7c 84px,#3f1080 144px,#431c96 384px,#4824a4 472px,#5734c7 636px,#603dd7 716px,#674de7 796px,#674de8 799px)"></i><i style="background:linear-gradient(90deg,#4c147b 0px,#400f7c 80px,#3e0f7f 136px,#441d98 392px,#4925a6 480px,#5835c8 640px,#613ed8 720px,#674de7 796px,#674ee8 799px)"></i><i style="background:linear-gradient(90deg,#4c137b 0px,#400f7c 76px,#3e0f7f 132px,#441d98 392px,#4926a7 484px,#5835c9 640px,#613ed8 720px,#674de8 796px,#674ee8 799px)"></i><i style="background:linear-gradient(90deg,#4b137b 0px,#400f7c 76px,#3e0f7f 136px,#441d98 392px,#4926a8 484px,#5835c9 640px,#613ed9 720px,#674ee8 796px,#684ee9 799px)"></i><i style="background:linear-gradient(90deg,#4b137b 0px,#400f7c 72px,#3e0f7f 132px,#441d98 388px,#4926a8 484px,#5836c9 640px,#613dd9 716px,#684ee9 796px,#684ee9 799px)"></i><i style="background:linear-gradient(90deg,#4b137b 0px,#3f0f7c 72px,#3e0f7f 132px,#441d98 384px,#4926a9 484px,#5836ca 640px,#613ed9 716px,#684ee9 796px,#684fea 799px)"></i><i style="background:linear-gradient(90deg,#4a137b 0px,#400f7c 68px,#3e0f7f 132px,#441d98 380px,#4926a9 480px,#5835c9 632px,#623ed9 716px,#684eea 796px,#684fea 799px)"></i><i style="background:linear-gradient(90deg,#4a127b 0px,#3f0e7c 68px,#3e0f7f 132px,#441d98 376px,#4927a9 480px,#5836c9 632px,#623eda 716px,#684fea 796px,#694feb 799px)"></i><i style="background:linear-gradient(90deg,#4a127b 0px,#3f0e7c 68px,#3e0f80 136px,#441d98 372px,#4a27a9 480px,#5836c9 632px,#623eda 716px,#694feb 796px,#6950eb 799px)"></i><i style="background:linear-gradient(90deg,#49127a 0px,#3f0e7c 64px,#3e0f7f 132px,#431d98 364px,#4927a9 476px,#5836c9 628px,#623eda 712px,#694feb 796px,#6950ec 799px)"></i><i style="background:linear-gradient(90deg,#49127a 0px,#3f0e7c 64px,#3e0f80 136px,#441d98 364px,#4a27aa 480px,#5836c9 628px,#623eda 712px,#6950ec 796px,#6950ec 799px)"></i><i style="background:linear-gradient(90deg,#49127a 0px,#3f0e7c 64px,#3e0f80 140px,#441d98 360px,#4a27ab 480px,#5836ca 628px,#623edb 712px,#6950ec 796px,#6a50ed 799px)"></i><i style="background:linear-gradient(90deg,#48127a 0px,#3f0e7c 64px,#3e1081 144px,#431d98 356px,#4a28ab 480px,#5836ca 628px,#633edb 712px,#6a50ec 796px,#6a51ed 799px)"></i><i style="background:linear-gradient(90deg,#48117a 0px,#3e0e7c 64px,#3e1081 148px,#441d98 356px,#4b28ad 484px,#5837ca 628px,#633edc 712px,#6a50ed 796px,#6a51ed 799px)"></i><i style="background:linear-gradient(90deg,#48117a 0px,#3f0e7b 60px,#3e1082 148px,#441d98 352px,#4b29ae 488px,#5937cc 632px,#643fdd 716px,#6a51ed 796px,#6a51ee 799px)"></i><i style="background:linear-gradient(90deg,#47117a 0px,#3e0e7b 60px,#3e1082 152px,#441d99 352px,#4b2aaf 492px,#5938cc 632px,#6440dd 716px,#6a51ee 796px,#6a52ee 799px)"></i><i style="background:linear-gradient(90deg,#47117a 0px,#3e0e7c 60px,#3e1083 156px,#441d99 352px,#4c2ab0 496px,#5a38cd 636px,#6440de 716px,#6b51ee 796px,#6b52ef 799px)"></i><i style="background:linear-gradient(90deg,#47117a 0px,#3e0e7c 60px,#3e1083 160px,#441d99 352px,#4c2bb2 500px,#5a39ce 640px,#6440de 716px,#6b52ef 796px,#6b52ef 799px)"></i><i style="background:linear-gradient(90deg,#47117a 0px,#3e0e7c 60px,#3e1083 160px,#441d99 348px,#4c2bb2 500px,#5a39ce 636px,#6440de 716px,#6b52ef 796px,#6b52f0 799px)"></i><i style="background:linear-gradient(90deg,#46107a 0px,#3e0e7c 60px,#3e1184 164px,#441e9a 348px,#4d2cb3 504px,#5b39cf 640px,#6540df 716px,#6b52f0 796px,#6b53f0 799px)"></i><i style="background:linear-gradient(90deg,#46107a 0px,#3e0e7c 60px,#3e1184 164px,#441d99 344px,#4d2db5 508px,#5b39cf 640px,#6541df 716px,#6b52f0 796px,#6b53f1 799px)"></i><i style="background:linear-gradient(90deg,#461079 0px,#3e0e7c 60px,#3e1184 164px,#441d99 340px,#4e2db6 512px,#5b3ad1 644px,#6542e1 720px,#6b53f0 796px,#6b53f1 799px)"></i><i style="background:linear-gradient(90deg,#461079 0px,#3e0e7c 60px,#3e1184 164px,#441d9a 340px,#4e2eb7 516px,#5c3ad2 648px,#6542e1 720px,#6b53f1 796px,#6c53f1 799px)"></i><i style="background:linear-gradient(90deg,#451079 0px,#3e0e7c 60px,#3e1184 164px,#441d99 336px,#4f2fb8 520px,#5c3bd2 648px,#6642e1 720px,#6c53f1 796px,#6c54f2 799px)"></i><i style="background:linear-gradient(90deg,#451079 0px,#3e0e7c 56px,#3e1184 164px,#441d99 332px,#4f2fb9 520px,#5c3bd3 648px,#6642e2 720px,#6c53f2 796px,#6c54f2 799px)"></i><i style="background:linear-gradient(90deg,#451079 0px,#3e0e7c 56px,#3e1185 164px,#441d9a 332px,#4f30ba 524px,#5d3cd4 652px,#6643e2 720px,#6c54f2 796px,#6c54f3 799px)"></i><i style="background:linear-gradient(90deg,#451079 0px,#3e0e7c 56px,#3e1185 164px,#441d99 328px,#5030bb 528px,#5d3cd4 652px,#6643e3 720px,#6c54f3 796px,#6c54f3 799px)"></i><i style="background:linear-gradient(90deg,#450f79 0px,#3e0e7c 56px,#3e1185 164px,#441d99 324px,#5031bc 528px,#5d3cd5 652px,#6643e3 720px,#6c54f3 796px,#6c55f4 799px)"></i><i style="background:linear-gradient(90deg,#440f79 0px,#3e0e7d 56px,#3e1185 164px,#441d9a 324px,#5031bc 528px,#5d3cd5 652px,#6644e3 720px,#6c54f4 796px,#6c55f4 799px)"></i><i style="background:linear-gradient(90deg,#440f79 0px,#3e0e7d 56px,#3e1185 164px,#441d99 320px,#5031bc 528px,#5d3dd5 652px,#6644e4 720px,#6c54f4 796px,#6c55f5 799px)"></i><i style="background:linear-gradient(90deg,#440f79 0px,#3e0e7d 56px,#3e1185 164px,#441d99 316px,#5031bc 524px,#5d3dd5 648px,#6644e4 720px,#6c55f4 796px,#6c55f5 799px)"></i><i style="background:linear-gradient(90deg,#440f79 0px,#3e0e7d 56px,#3e1186 164px,#441d99 316px,#5032bd 528px,#5e3dd6 652px,#6745e5 720px,#6c55f5 796px,#6c55f5 799px)"></i><i style="background:linear-gradient(90deg,#440f79 0px,#3e0e7d 56px,#3e1186 164px,#441d99 312px,#5032be 528px,#5e3ed7 652px,#6745e5 720px,#6c55f5 796px,#6d56f6 799px)"></i><i style="background:linear-gradient(90deg,#440f79 0px,#3e0e7d 56px,#3e1186 164px,#441d99 312px,#5132be 528px,#5e3ed7 652px,#6745e6 720px,#6c55f6 796px,#6d56f6 799px)"></i><i style="background:linear-gradient(90deg,#430f79 0px,#3e0e7d 56px,#3e1186 164px,#441d99 308px,#5132bf 528px,#5e3ed7 652px,#6746e6 720px,#6d56f6 796px,#6d56f7 799px)"></i><i style="background:linear-gradient(90deg,#430f79 0px,#3e0e7e 56px,#3e1186 164px,#441d9a 308px,#5133bf 528px,#5e3ed8 652px,#6746e6 720px,#6d56f6 796px,#6d56f7 799px)"></i><i style="background:linear-gradient(90deg,#430f79 0px,#3e0e7e 56px,#3e1186 164px,#441d99 304px,#5133bf 528px,#5e3fd8 652px,#6746e7 720px,#6d56f7 796px,#6d57f7 799px)"></i><i style="background:linear-gradient(90deg,#430f79 0px,#3e0e7e 56px,#3d1187 164px,#441d9a 304px,#5133c0 528px,#5e3fd9 652px,#6747e7 720px,#6d56f7 796px,#6d57f8 799px)"></i><i style="background:linear-gradient(90deg,#430e79 0px,#3e0e7e 56px,#3d1187 164px,#441d99 300px,#5133c0 528px,#5f3fd9 652px,#6747e8 720px,#6d57f8 796px,#6d57f8 799px)"></i><i style="background:linear-gradient(90deg,#430e79 0px,#3e0e7e 56px,#3d1187 164px,#441d9a 300px,#5134c1 528px,#5f40d9 652px,#6747e8 720px,#6d57f8 796px,#6d57f9 799px)"></i><i style="background:linear-gradient(90deg,#430e7a 0px,#3e0e7f 60px,#3d1187 164px,#441d9a 300px,#5234c2 532px,#5f40db 656px,#6848e9 724px,#6d57f8 796px,#6d58f9 799px)"></i><i style="background:linear-gradient(90deg,#430e7a 0px,#3e0e7f 60px,#3d1187 164px,#441d9a 300px,#5235c2 532px,#5f40db 656px,#6849ea 724px,#6d57f9 796px,#6d58f9 799px)"></i></div>
 <div class="dec" style="left:663px;top:175px;width:150px;height:150px;background:radial-gradient(circle at 75px 75px,rgba(84,68,240,.25) 0,rgba(86,72,245,.42) 32px,rgba(90,78,252,.95) 52px,rgba(90,78,252,.7) 59px,rgba(90,78,252,0) 68px);-webkit-mask-image:linear-gradient(205deg,#000 47%,rgba(0,0,0,.55) 58%,rgba(0,0,0,0) 72%)"></div>
 <div class="dec" style="left:77px;top:84px;width:110px;height:110px;background:radial-gradient(circle at 55px 55px,rgba(170,90,170,.22) 0,rgba(170,90,170,.26) 28px,rgba(180,105,180,.42) 40px,rgba(180,105,180,0) 53px);filter:blur(1.5px);-webkit-mask-image:linear-gradient(45deg,#000 30%,rgba(0,0,0,.45) 42%,rgba(0,0,0,0) 54%)"></div>
 <div class="st" style="left:70px;top:66px;width:62px;height:5px;transform:rotate(-42deg);background:linear-gradient(90deg,rgba(200,140,120,0),rgba(195,135,125,.5) 22%,rgba(175,60,170,.6) 70%,rgba(185,40,170,0))"></div>
 <div class="st" style="left:57px;top:329px;width:112px;height:5px;transform:rotate(-43.5deg);background:linear-gradient(90deg,rgba(210,150,130,0),rgba(205,145,135,.5) 18%,rgba(160,60,175,.55) 65%,rgba(150,40,180,0))"></div>
 <div class="st" style="left:418px;top:95px;width:156px;height:6px;filter:blur(2px);transform:rotate(-43.5deg);background:linear-gradient(90deg,rgba(200,120,210,0),rgba(200,120,210,.4) 25%,rgba(150,55,200,.55) 60%,rgba(140,40,200,.65))"></div>
 <div class="st" style="left:366px;top:457px;width:75px;height:5px;filter:blur(1.5px);transform:rotate(-45deg);background:linear-gradient(90deg,rgba(170,60,200,.55),rgba(170,60,200,.5) 60%,rgba(170,60,200,0))"></div>
 <div class="dec" style="left:410px;top:86px;width:26px;height:6px;background:radial-gradient(ellipse at center,rgba(210,150,210,.55),rgba(210,150,210,0) 70%)"></div>
 <div class="st" style="left:716px;top:424px;width:125px;height:5px;filter:blur(1.5px);transform:rotate(-45deg);background:linear-gradient(90deg,rgba(170,120,245,0),rgba(170,120,245,.6) 30%,rgba(150,90,235,.65) 60%,rgba(140,80,230,.2))"></div>
</div>

<div class="d" style="left:119px">PO</div>
<div class="d" style="left:211.3px">ÚT</div>
<div class="d" style="left:303.6px">ST</div>
<div class="d" style="left:395.9px">ČT</div>
<div class="d" style="left:488.1px">PÁ</div>
<div class="d" style="left:580.4px">SO</div>
<div class="d" style="left:672.7px">NE</div>

<div class="s" style="top:47px">DENNÍ RELAX</div>
<div class="s" style="top:179px">DOCU-REALITY</div>
<div class="s" style="top:256px">VEČERNÍ ZÁBAVA</div>

<div class="b c1" style="left:119px;top:62px;width:643px;height:26px;line-height:28.4px">Telenovely z Prima LOVE</div>
<div class="b c1" style="left:119px;top:91px;width:643px;height:26px;line-height:28.4px">Modrý kód, Rodinná pouta</div>
<div class="b c2" style="left:119px;top:120px;width:643px;height:26px;line-height:28.4px">Prostřeno!, S Italem v kuchyni, Božské dorty od Markéty</div>
<div class="b c2" style="left:119px;top:149px;width:643px;height:26px;line-height:28.4px">Carusošou</div>

<div class="b c3" style="left:119px;top:197px;width:458.4px;height:25.5px;line-height:27.9px;padding-left:5px">Křižovatky života</div>
<div class="b c3" style="left:580.4px;top:197px;width:181.6px;height:25.5px;line-height:27.9px;padding-right:6px">Ženy na cestách</div>
<div class="b c3" style="left:119px;top:226px;width:643px;height:26px;line-height:28.4px">Jak se staví sen</div>

<div class="b c4" style="left:119px;top:273px;width:643px;height:38px;line-height:40.4px">Nikdo není dokonalý</div>
<div class="b c4" style="left:119px;top:314px;width:458.4px;height:25.2px;line-height:26.6px">To je fór!</div>
<div class="b c4" style="left:580.4px;top:314px;width:181.6px;height:25.2px;line-height:26.6px">Telebazar</div>

<div class="b c5" style="left:119px;top:343px;width:89.3px;height:37px;line-height:11.9px;padding-top:7.8px"><span style="letter-spacing:-.5px">Show</span><br>Jana Krause</div>
<div class="b c5" style="left:211.3px;top:343px;width:89.3px;height:37px;line-height:38.4px">Polívka na víně</div>
<div class="b c5" style="left:303.6px;top:343px;width:89.3px;height:37px;line-height:38.4px">Na Pavláska</div>
<div class="b c5" style="left:395.9px;top:343px;width:89.3px;height:37px;line-height:38.4px">Marta</div>
<div class="b c5" style="left:488.1px;top:343px;width:89.3px;height:37px;line-height:38.4px">Dementi</div>
<div class="b c5" style="left:580.4px;top:343px;width:181.6px;height:37px;line-height:38.4px">Benefice</div>
<div class="b c5" style="left:119px;top:383px;width:643px;height:26px;line-height:28.4px">Trní</div>
<div class="b c6" style="left:119px;top:412px;width:643px;height:26px;line-height:28.4px">Reprízy</div>

<div class="t" style="left:17.3px;top:65.5px;font-size:16.6px;letter-spacing:.75px">dopoledne</div>
<div class="t" style="left:17.5px;top:94px;letter-spacing:-.1px">12.40–15.15</div>
<div class="t" style="left:17.5px;top:123px;letter-spacing:-.95px">15.15–17.15</div>
<div class="t" style="left:17.5px;top:152px;letter-spacing:-.7px">17.15–18.10</div>
<div class="t" style="left:16.2px;top:215px;letter-spacing:-.35px">18.10–20.15</div>
<div class="t" style="left:17.2px;top:297px;letter-spacing:-.1px">20.15–22.15</div>
<div class="t" style="left:18px;top:366px;letter-spacing:-.8px">22.15–0.15</div>
<div class="t" style="left:16.3px;top:415px;letter-spacing:.5px">00.15–3.45</div>
</body></html>
